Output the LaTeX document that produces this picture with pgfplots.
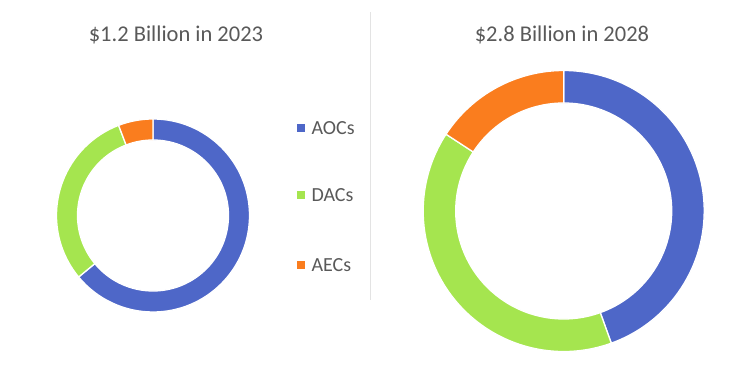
\documentclass[border=0pt]{standalone}
\usepackage{pgfplots}
\pgfplotsset{compat=1.18}
\usepackage{fontspec}
\setmainfont{Carlito}
\definecolor{aoc}{HTML}{4E67C8}
\definecolor{dac}{HTML}{A5E54F}
\definecolor{aec}{HTML}{FA7D1E}
\definecolor{txt}{HTML}{595959}
\definecolor{sep}{HTML}{E3E3E3}
% #1 cx, #2 cy, #3 R, #4 r, #5 start pct, #6 pct, #7 colour
\newcommand\donutseg[7]{%
  \pgfmathsetmacro\sa{90-3.6*(#5)}%
  \pgfmathsetmacro\ea{90-3.6*((#5)+(#6))}%
  \pgfmathsetmacro\xa{#1+#3*cos(\sa)}%
  \pgfmathsetmacro\ya{#2+#3*sin(\sa)}%
  \pgfmathsetmacro\xb{#1+#4*cos(\ea)}%
  \pgfmathsetmacro\yb{#2+#4*sin(\ea)}%
  \edef\tmp{\noexpand\filldraw[fill=#7,draw=white,line width=1.3pt]
    (axis cs:\xa,\ya) arc[start angle=\sa,end angle=\ea,radius=#3pt]
    -- (axis cs:\xb,\yb) arc[start angle=\ea,end angle=\sa,radius=#4pt] -- cycle;}%
  \tmp}
\begin{document}
\begin{tikzpicture}
\begin{axis}[x=1pt,y=1pt,xmin=0,xmax=737,ymin=0,ymax=370,
  hide axis,clip=false,enlargelimits=false]
\addplot[draw=none] coordinates {(0,0) (737,370)};
% 2023: AOCs 64, DACs 30.2, AECs 5.8
\donutseg{153}{154.5}{96.5}{75.5}{0}{64}{aoc}
\donutseg{153}{154.5}{96.5}{75.5}{64}{30.2}{dac}
\donutseg{153}{154.5}{96.5}{75.5}{94.2}{5.8}{aec}
% 2028: AOCs 44.5, DACs 39.7, AECs 15.8
\donutseg{563.7}{159}{140.5}{108}{0}{44.5}{aoc}
\donutseg{563.7}{159}{140.5}{108}{44.5}{39.7}{dac}
\donutseg{563.7}{159}{140.5}{108}{84.2}{15.8}{aec}
\draw[sep,line width=1pt] (axis cs:370,358) -- (axis cs:370,70);
\node[txt,font=\fontsize{22.5}{26}\selectfont] at (axis cs:176,335) {\$1.2 Billion in 2023};
\node[txt,font=\fontsize{22.5}{26}\selectfont] at (axis cs:562,335) {\$2.8 Billion in 2028};
\fill[aoc] (axis cs:297,238) rectangle (axis cs:305,246);
\node[txt,anchor=west,font=\fontsize{20}{24}\selectfont] at (axis cs:308,242) {AOCs};
\fill[dac] (axis cs:297,171) rectangle (axis cs:305,179);
\node[txt,anchor=west,font=\fontsize{20}{24}\selectfont] at (axis cs:308,175) {DACs};
\fill[aec] (axis cs:297,101) rectangle (axis cs:305,109);
\node[txt,anchor=west,font=\fontsize{20}{24}\selectfont] at (axis cs:308,105) {AECs};
\end{axis}
\end{tikzpicture}
\end{document}
